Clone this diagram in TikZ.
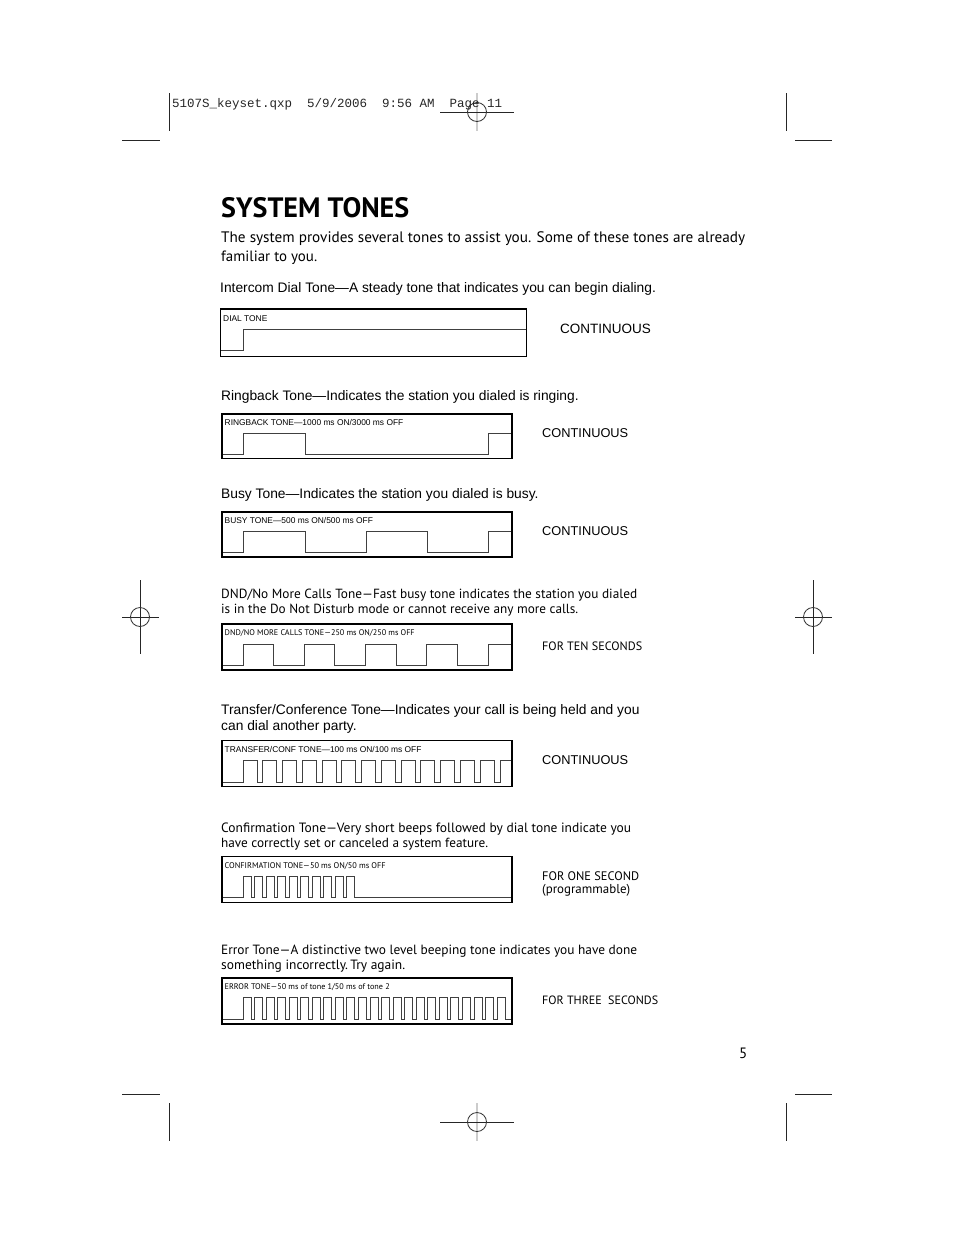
\documentclass[tikz,border=0pt]{standalone}
\usepackage{fontspec}
\setmainfont{Liberation Sans}
\newfontfamily\myr{PT Sans}
\newfontfamily\monof{Liberation Mono}
\newcommand{\fitw}[2]{\resizebox{#1pt}{!}{\myr\fontsize{14}{16}\selectfont #2}}
\begin{document}
\begin{tikzpicture}[x=1pt,y=-1pt,
  txt/.style={inner sep=0pt, anchor=base west},
  arial/.style={txt, font=\fontsize{13.8}{16}\selectfont},
  side/.style={txt, font=\fontsize{12.8}{15}\selectfont},
  lab/.style={txt, font=\fontsize{8.4}{10}\selectfont},
  tonebox/.style={draw=black, line width=1.9pt},
  wave/.style={draw=black!75, line width=1pt},
  crop/.style={draw=black!85, line width=0.9pt},
  regv/.style={draw=black!20, line width=2pt},
  regc/.style={draw=black!80, line width=0.8pt}]
\useasboundingbox[fill=white] (0,0) rectangle (954,1235);

% ---- crop and registration marks ----
\draw[crop] (169,93) -- (169,131);
\draw[crop] (122,140) -- (160,140);
\draw[crop] (786,93) -- (786,131);
\draw[crop] (795,140) -- (832,140);
\draw[crop] (122,1094) -- (160,1094);
\draw[crop] (169,1103) -- (169,1141);
\draw[crop] (795,1094) -- (832,1094);
\draw[crop] (786,1103) -- (786,1141);
% top centre
\draw[regv] (477,93) -- (477,131);
\draw[crop] (440,112) -- (514,112);
\draw[regc] (477,112) circle (9.5);
% bottom centre
\draw[regv] (477,1103) -- (477,1141);
\draw[crop] (440,1122) -- (514,1122);
\draw[regc] (477,1122) circle (9.5);
% left middle
\draw[crop] (140,580) -- (140,654);
\draw[crop] (122,617) -- (159,617);
\draw[regc] (140,617) circle (9.5);
% right middle
\draw[crop] (813,580) -- (813,654);
\draw[crop] (795,617) -- (832,617);
\draw[regc] (813,617) circle (9.5);

\node[txt, font=\monof\fontsize{12.5}{14}\selectfont, text=black!85] (hdr) at (172,107)
  {5107S\_keyset.qxp\ \ 5/9/2006\ \ 9:56 AM\ \ Page 11};

% ---- title and intro ----
\node[txt] (title) at (221,217) {\resizebox{188pt}{!}{\myr\bfseries\fontsize{30}{32}\selectfont SYSTEM TONES}};
\node[txt] (intro1) at (221,242) {\fitw{524}{The system provides several tones to assist you. Some of these tones are already}};
\node[txt] (intro2) at (221,261) {\fitw{96}{familiar to you.}};

% ---- dial tone ----
\node[arial] (h1) at (220,292) {Intercom Dial Tone—A steady tone that indicates you can begin dialing.};
\draw[wave] (221,350) -- (243,350) -- (243,329) -- (526,329);
\draw[tonebox] (220.5,309) rectangle (526.5,356.5);
\node[lab] (l1) at (223,321) {DIAL TONE};
\node[txt, font=\fontsize{13.5}{16}\selectfont] (r1) at (560,333) {CONTINUOUS};

% ---- ringback ----
\node[arial] (h2) at (221,400) {Ringback Tone—Indicates the station you dialed is ringing.};
\draw[wave] (223,454) -- (243,454) -- (243,433) -- (305,433) -- (305,454) -- (488,454) -- (488,433) -- (511,433);
\draw[tonebox] (222,414) rectangle (512,458.5);
\node[lab] (l2) at (224.5,425) {RINGBACK TONE—1000 ms ON/3000 ms OFF};
\node[side] (r2) at (542,437) {CONTINUOUS};

% ---- busy ----
\node[arial] (h3) at (221,498) {Busy Tone—Indicates the station you dialed is busy.};
\draw[wave] (223,552) -- (243,552) -- (243,531) -- (305,531) -- (305,552) -- (366,552) -- (366,531)
  -- (427,531) -- (427,552) -- (488,552) -- (488,531) -- (511,531);
\draw[tonebox] (222,512) rectangle (512,557);
\node[lab] (l3) at (224.5,523) {BUSY TONE—500 ms ON/500 ms OFF};
\node[side] (r3) at (542,535) {CONTINUOUS};

% ---- DND ----
\node[txt] (h4a) at (221,598) {\fitw{416}{DND/No More Calls Tone—Fast busy tone indicates the station you dialed}};
\node[txt] (h4b) at (221,613) {\fitw{357}{is in the Do Not Disturb mode or cannot receive any more calls.}};
\draw[wave] (223,665) \foreach \k in {0,...,3} {
  -- ({243+61.25*\k},665) -- ({243+61.25*\k},644) -- ({273.6+61.25*\k},644) -- ({273.6+61.25*\k},665) }
  -- (488,665) -- (488,644) -- (511,644);
\draw[tonebox] (222,624) rectangle (512,670);
\node[txt] (l4) at (224.5,635) {\resizebox{190pt}{!}{\myr\fontsize{8}{10}\selectfont DND/NO MORE CALLS TONE—250 ms ON/250 ms OFF}};
\node[txt] (r4) at (542,650) {\fitw{100}{FOR TEN SECONDS}};

% ---- transfer / conference ----
\node[arial] (h5a) at (221,714) {Transfer/Conference Tone—Indicates your call is being held and you};
\node[arial] (h5b) at (221,730) {can dial another party.};
\draw[wave] (223,782) \foreach \k in {0,...,12} {
  -- ({243+19.77*\k},782) -- ({243+19.77*\k},760) -- ({257+19.77*\k},760) -- ({257+19.77*\k},782) }
  -- (500,782) -- (500,760) -- (511,760);
\draw[tonebox] (222,740.5) rectangle (512,786.5);
\node[lab] (l5) at (224.5,752) {TRANSFER/CONF TONE—100 ms ON/100 ms OFF};
\node[side] (r5) at (542,764) {CONTINUOUS};

% ---- confirmation ----
\node[txt] (h6a) at (221,832) {\fitw{410}{Confirmation Tone—Very short beeps followed by dial tone indicate you}};
\node[txt] (h6b) at (221,847) {\fitw{267}{have correctly set or canceled a system feature.}};
\draw[wave] (223,897) \foreach \k in {0,...,9} {
  -- ({243+11.5*\k},897) -- ({243+11.5*\k},876) -- ({251+11.5*\k},876) -- ({251+11.5*\k},897) }
  -- (511,897);
\draw[tonebox] (222,856.5) rectangle (512,902.5);
\node[txt] (l6) at (224.5,868) {\resizebox{161pt}{!}{\myr\fontsize{8}{10}\selectfont CONFIRMATION TONE—50 ms ON/50 ms OFF}};
\node[txt] (r6a) at (542,880) {\fitw{97}{FOR ONE SECOND}};
\node[txt] (r6b) at (542,893) {\fitw{88}{(programmable)}};

% ---- error ----
\node[txt] (h7a) at (221,954) {\fitw{416}{Error Tone—A distinctive two level beeping tone indicates you have done}};
\node[txt] (h7b) at (221,969) {\fitw{184}{something incorrectly.\,Try again.}};
\draw[wave] (223,1019) \foreach \k in {0,...,22} {
  -- ({243+11.55*\k},1019) -- ({243+11.55*\k},997) -- ({251+11.55*\k},997) -- ({251+11.55*\k},1019) }
  -- (511,1019);
\draw[tonebox] (222,978) rectangle (512,1024);
\node[txt] (l7) at (224.5,989) {\resizebox{165pt}{!}{\myr\fontsize{8}{10}\selectfont ERROR TONE—50 ms of tone 1/50 ms of tone 2}};
\node[txt] (r7) at (542,1004) {\fitw{116}{FOR THREE\ \ SECONDS}};

\node[txt] (pg) at (739,1058) {\myr\fontsize{15}{18}\selectfont 5};
\end{tikzpicture}
\end{document}
